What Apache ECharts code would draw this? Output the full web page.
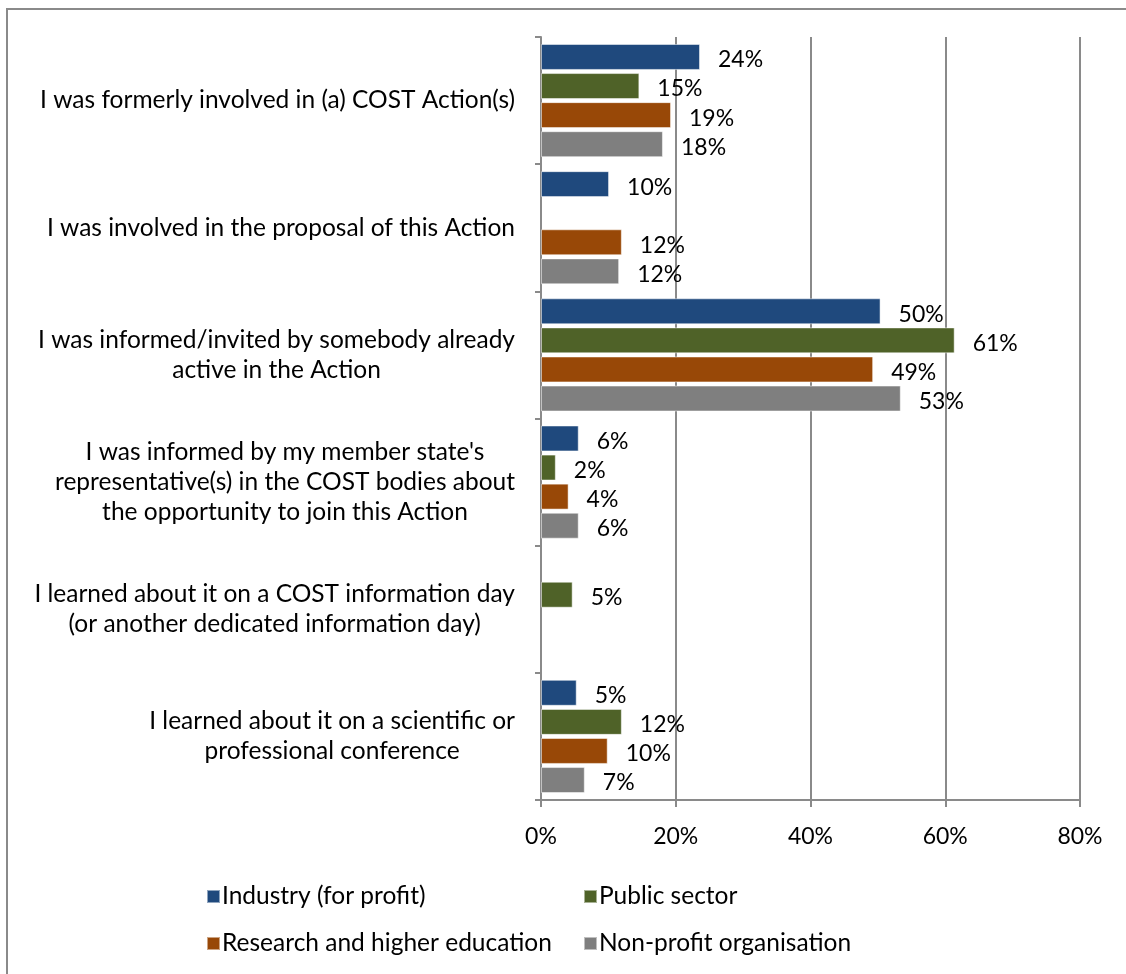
<!DOCTYPE html>
<html>
<head>
<meta charset="utf-8">
<script src="https://cdn.jsdelivr.net/npm/echarts@6/dist/echarts.min.js"></script>
<style>
  html, body { margin: 0; padding: 0; background: #fff; }
  #main { width: 1126px; height: 974px; }
</style>
</head>
<body>
<div id="main"></div>
<script>
// categories, top to bottom
var categories = [
  'I was formerly involved in (a) COST Action(s)',
  'I was involved in the proposal of this Action',
  'I was informed/invited by somebody already\nactive in the Action',
  "I was informed by my member state's\nrepresentative(s) in the COST bodies about\nthe opportunity to join this Action",
  'I learned about it on a COST information day\n(or another dedicated information day)',
  'I learned about it on a scientific or\nprofessional conference'
];
var seriesNames = ['Industry (for profit)', 'Public sector', 'Research and higher education', 'Non-profit organisation'];
// percent (labels rounded)
var industry = [23.6, 10.1, 50.4, 5.6, null, 5.3];
var publicSector = [14.6, null, 61.4, 2.2, 4.7, 12.0];
var research = [19.3, 12.0, 49.3, 4.1, null, 9.9];
var nonProfit = [18.1, 11.6, 53.4, 5.6, null, 6.5];
var xTicks = [0, 20, 40, 60, 80];

var colors = ['#1f497d', '#4f6228', '#984807', '#7f7f7f'];
var font = 'Lato, "Open Sans", sans-serif';
var gridColor = '#8a8a8a';

var chartDom = document.getElementById('main');
var myChart = echarts.init(chartDom);

var labelOption = {
  show: true,
  position: 'right',
  distance: 18,
  offset: [0, 3],
  color: '#000',
  fontSize: 23,
  fontFamily: font,
  formatter: function (p) { return Math.round(p.value) + '%'; }
};

function makeSeries(name, data, i) {
  return {
    name: name,
    type: 'bar',
    data: data,
    barGap: '12%',
    barCategoryGap: '11%',
    itemStyle: { color: colors[i], borderColor: 'rgba(255,255,255,0.5)', borderWidth: 1 },
    label: labelOption
  };
}

var legendText = { fontSize: 24.5, color: '#000', fontFamily: font, padding: [0, 0, 0, -3] };

var option = {
  animation: false,
  color: colors,
  textStyle: { fontFamily: font },
  graphic: [{
    type: 'rect',
    shape: { x: 7, y: 9, width: 1300, height: 1100 },
    style: { fill: 'none', stroke: '#8a8a8a', lineWidth: 2 },
    silent: true
  }],
  grid: { left: 541, right: 46, top: 37, bottom: 174 },
  legend: [{
    data: [seriesNames[0], seriesNames[2]],
    orient: 'vertical',
    left: 201,
    top: 879,
    itemGap: 22,
    itemWidth: 13,
    itemHeight: 13,
    icon: 'rect',
    textStyle: legendText
  }, {
    data: [seriesNames[1], seriesNames[3]],
    orient: 'vertical',
    left: 578,
    top: 879,
    itemGap: 22,
    itemWidth: 13,
    itemHeight: 13,
    icon: 'rect',
    textStyle: legendText
  }],
  xAxis: {
    type: 'value',
    min: xTicks[0],
    max: xTicks[xTicks.length - 1],
    interval: 20,
    axisLine: { show: true, lineStyle: { color: gridColor, width: 2 } },
    axisTick: { show: true, length: 7, lineStyle: { color: gridColor, width: 2 } },
    splitLine: { show: true, lineStyle: { color: gridColor, width: 2 } },
    axisLabel: { margin: 25, fontSize: 23, color: '#000', fontFamily: font, formatter: '{value}%' }
  },
  yAxis: {
    type: 'category',
    inverse: true,
    data: categories,
    axisLine: { show: true, lineStyle: { color: gridColor, width: 2 } },
    axisTick: { show: true, length: 6, lineStyle: { color: gridColor, width: 2 } },
    axisLabel: {
      margin: 26,
      align: 'right',
      formatter: function (v) {
        return v.split('\n').map(function (l) { return '{c|' + l + '}'; }).join('\n');
      },
      rich: {
        c: { align: 'center', fontSize: 24.5, lineHeight: 30, color: '#000', fontFamily: font }
      }
    }
  },
  series: [
    makeSeries(seriesNames[0], industry, 0),
    makeSeries(seriesNames[1], publicSector, 1),
    makeSeries(seriesNames[2], research, 2),
    makeSeries(seriesNames[3], nonProfit, 3)
  ]
};

option && myChart.setOption(option);
</script>
</body>
</html>
